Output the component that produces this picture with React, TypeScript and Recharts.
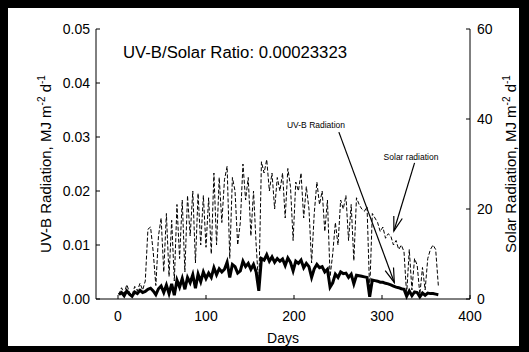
import React from 'react';
import { ComposedChart, Line, XAxis, YAxis, ReferenceLine } from 'recharts';

// day of year (every third day)
const days = [
  1, 4, 7, 10, 13, 16, 19, 22, 25, 28, 31, 34, 37, 40, 43, 46, 49, 52, 55, 58,
  61, 64, 67, 70, 73, 76, 79, 82, 85, 88, 91, 94, 97, 100, 103, 106, 109, 112, 115, 118,
  121, 124, 127, 130, 133, 136, 139, 142, 145, 148, 151, 154, 157, 160, 163, 166, 169, 172, 175, 178,
  181, 184, 187, 190, 193, 196, 199, 202, 205, 208, 211, 214, 217, 220, 223, 226, 229, 232, 235, 238,
  241, 244, 247, 250, 253, 256, 259, 262, 265, 268, 271, 274, 277, 280, 283, 286, 289, 292, 295, 298,
  301, 304, 307, 310, 313, 316, 319, 322, 325, 328, 331, 334, 337, 340, 343, 346, 349, 352, 355, 358,
  361, 364,
];

// solar radiation, MJ m-2 d-1 (right axis)
const solar = [
  1.0, 2.5, 1.2, 3.2, 1.5, 0.8, 2.8, 1.8, 3.5, 2.0,
  4.0, 15.5, 16.0, 10.5, 3.0, 14.0, 18.0, 6.0, 19.0, 5.0,
  17.5, 4.0, 21.0, 9.0, 22.0, 6.0, 23.0, 14.0, 24.0, 8.0,
  23.5, 12.0, 23.0, 11.5, 22.5, 10.0, 28.0, 12.0, 27.0, 17.0,
  26.5, 29.5, 9.0, 27.0, 24.0, 12.0, 17.0, 30.0, 22.0, 27.0,
  14.0, 24.0, 12.0, 2.5, 30.5, 28.0, 31.0, 24.0, 28.0, 20.0,
  27.0, 24.0, 28.0, 18.0, 29.0, 25.0, 13.0, 26.0, 24.0, 28.0,
  18.0, 25.0, 20.0, 8.0, 19.0, 26.0, 21.0, 24.0, 15.0, 22.0,
  5.0, 10.0, 17.0, 12.0, 22.0, 20.0, 23.0, 13.0, 21.0, 8.5,
  22.5, 21.0, 20.0, 19.5, 20.5, 1.5, 19.0, 18.0, 17.0, 15.0,
  16.0, 13.5, 14.5, 14.0, 12.0, 13.0, 11.0, 12.0, 10.5, 1.0,
  11.0, 2.0, 9.0, 7.5, 1.0, 7.0, 2.0, 9.0, 11.0, 12.0,
  11.0, 3.0,
];

// UV-B radiation, MJ m-2 d-1 (left axis)
const uvb = [
  0.0008, 0.0012, 0.0006, 0.0015, 0.0009, 0.0005, 0.0013, 0.0010, 0.0016, 0.0012,
  0.0014, 0.0018, 0.0020, 0.0015, 0.0008, 0.0019, 0.0024, 0.0012, 0.0026, 0.0010,
  0.0028, 0.0007, 0.0035, 0.0022, 0.0038, 0.0018, 0.0040, 0.0030, 0.0045, 0.0020,
  0.0046, 0.0032, 0.0050, 0.0038, 0.0048, 0.0040, 0.0058, 0.0045, 0.0056, 0.0050,
  0.0055, 0.0068, 0.0040, 0.0064, 0.0060, 0.0048, 0.0052, 0.0070, 0.0060, 0.0066,
  0.0055, 0.0064, 0.0050, 0.0015, 0.0075, 0.0072, 0.0082, 0.0070, 0.0078, 0.0068,
  0.0075, 0.0070, 0.0074, 0.0062, 0.0076, 0.0068, 0.0052, 0.0070, 0.0066, 0.0072,
  0.0058, 0.0066, 0.0060, 0.0040, 0.0056, 0.0064, 0.0058, 0.0060, 0.0050, 0.0055,
  0.0022, 0.0030, 0.0046, 0.0040, 0.0050, 0.0047, 0.0048, 0.0040, 0.0046, 0.0028,
  0.0044, 0.0043, 0.0042, 0.0041, 0.0040, 0.0004, 0.0035, 0.0034, 0.0033, 0.0031,
  0.0031, 0.0029, 0.0028, 0.0026, 0.0024, 0.0022, 0.0021, 0.0019, 0.0018, 0.0005,
  0.0015, 0.0006, 0.0013, 0.0012, 0.0004, 0.0011, 0.0007, 0.0011, 0.0010, 0.0010,
  0.0009, 0.0008,
];

const dayTicks = [0, 100, 200, 300, 400];
const uvTicks = [0, 0.01, 0.02, 0.03, 0.04, 0.05];
const solarTicks = [0, 20, 40, 60];

const data = days.map((d, i) => ({ day: d, solar: solar[i], uvb: uvb[i] }));

const FONT = '"Liberation Sans", Arial, sans-serif';

const AxisTick = (props: any) => {
  const { x, y, payload, textAnchor, dy, fmt } = props;
  return (
    <text x={x} y={y} dy={dy} textAnchor={textAnchor} fontSize={14} fontFamily={FONT} fill="#000">
      {fmt ? fmt(payload.value) : payload.value}
    </text>
  );
};

const Arrow = (props: any) => {
  const { x1, y1, x2, y2 } = props;
  const a = Math.atan2(y2 - y1, x2 - x1);
  const len = 15;
  const w = 0.3;
  const h1 = `${x2 - len * Math.cos(a - w)},${y2 - len * Math.sin(a - w)}`;
  const h2 = `${x2 - len * Math.cos(a + w)},${y2 - len * Math.sin(a + w)}`;
  return (
    <g>
      <line x1={x1} y1={y1} x2={x2} y2={y2} stroke="#000" strokeWidth={1.2} />
      <polyline points={`${h1} ${x2},${y2} ${h2}`} fill="none" stroke="#000" strokeWidth={1.2} />
    </g>
  );
};

export default function App() {
  return (
    <div style={{ position: 'absolute', left: 0, top: 0, width: 529, height: 352, background: '#000' }}>
      <div style={{ position: 'absolute', left: 8, top: 8, width: 511, height: 338, background: '#fff' }} />
      <div style={{ position: 'absolute', left: 0, top: 0 }}>
        <ComposedChart width={529} height={352} data={data} margin={{ top: 29, right: 14, bottom: 13, left: 36 }}>
          <XAxis
            xAxisId="b"
            dataKey="day"
            type="number"
            domain={[-25, 400]}
            ticks={dayTicks}
            height={40}
            stroke="#000"
            tickSize={-4}
            tickMargin={16}
            tick={(p: any) => <AxisTick {...p} dy="0.71em" />}
          />
          <XAxis
            xAxisId="t"
            orientation="top"
            dataKey="day"
            type="number"
            domain={[-25, 400]}
            ticks={dayTicks}
            height={0}
            stroke="#000"
            tickSize={-4}
            tick={() => <g />}
          />
          <YAxis
            yAxisId="uv"
            type="number"
            domain={[0, 0.05]}
            ticks={uvTicks}
            width={60}
            stroke="#000"
            tickSize={-4}
            tickMargin={10}
            tick={(p: any) => <AxisTick {...p} dy="0.355em" fmt={(v: number) => v.toFixed(2)} />}
          />
          <YAxis
            yAxisId="sol"
            orientation="right"
            type="number"
            domain={[0, 60]}
            ticks={solarTicks}
            width={45}
            stroke="#000"
            tickSize={-4}
            tickMargin={11}
            tick={(p: any) => <AxisTick {...p} dy="0.355em" />}
          />
          <Line
            xAxisId="b"
            yAxisId="sol"
            type="linear"
            dataKey="solar"
            stroke="#000"
            strokeWidth={1}
            strokeDasharray="4 2"
            dot={false}
            isAnimationActive={false}
          />
          <Line
            xAxisId="b"
            yAxisId="uv"
            type="linear"
            dataKey="uvb"
            stroke="#000"
            strokeWidth={3}
            dot={false}
            isAnimationActive={false}
          />
          <ReferenceLine
            xAxisId="b"
            yAxisId="uv"
            segment={[{ x: 251, y: 0.0309 }, { x: 314, y: 0.00306 }]}
            shape={Arrow}
          />
          <ReferenceLine
            xAxisId="b"
            yAxisId="uv"
            segment={[{ x: 337, y: 0.0252 }, { x: 313.5, y: 0.0126 }]}
            shape={Arrow}
          />
        </ComposedChart>
      </div>
      <svg width={529} height={352} style={{ position: 'absolute', left: 0, top: 0, pointerEvents: 'none' }}>
        <g fontFamily={FONT} fill="#000">
          <text x={123} y={58} fontSize={16} textLength={224} lengthAdjust="spacingAndGlyphs">
            UV-B/Solar Ratio: 0.00023323
          </text>
          <text x={316} y={128} fontSize={8.5} textAnchor="middle">UV-B Radiation</text>
          <text x={411} y={160} fontSize={8.5} textAnchor="middle">Solar radiation</text>
          <text x={283} y={343} fontSize={14} textAnchor="middle">Days</text>
          <text transform="translate(51,164) rotate(-90)" fontSize={15} textAnchor="middle">
            UV-B Radiation, MJ m<tspan dy={-6} fontSize={10}>-2</tspan>
            <tspan dy={6}>{' d'}</tspan>
            <tspan dy={-6} fontSize={10}>-1</tspan>
          </text>
          <text transform="translate(516,164) rotate(-90)" fontSize={15} textAnchor="middle">
            Solar Radiation, MJ m<tspan dy={-6} fontSize={10}>-2</tspan>
            <tspan dy={6}>{' d'}</tspan>
            <tspan dy={-6} fontSize={10}>-1</tspan>
          </text>
        </g>
      </svg>
    </div>
  );
}
